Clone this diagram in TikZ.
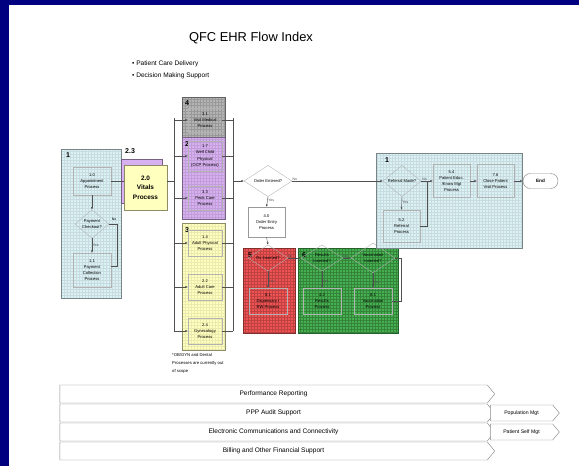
\documentclass[tikz,border=0pt]{standalone}
\usepackage{fontspec}
\setmainfont{Liberation Sans}
\usetikzlibrary{arrows.meta, positioning, shapes.geometric, shapes.symbols}
\definecolor{slidenavy}{RGB}{0,0,128}
\definecolor{boxblue}{RGB}{218,242,246}
\definecolor{boxpurple}{RGB}{214,176,240}
\definecolor{boxyellow}{RGB}{255,255,190}
\definecolor{boxred}{RGB}{238,82,82}
\definecolor{boxgreen}{RGB}{70,176,80}
\definecolor{boxgrey}{RGB}{180,180,180}
\definecolor{linegrey}{RGB}{80,80,80}
\newlength{\pxu}
\setlength{\pxu}{0.03cm}
\newcommand{\tfont}{\fontsize{3.5}{5.2}\selectfont}

\begin{document}
\begin{tikzpicture}[x=0.03cm, y=-0.03cm,
    group/.style={draw=#1!55!black, line width=0.7pt, fill=#1, inner sep=0pt},
    gridded/.style={path picture={\draw[#1, line width=0.12pt]
        (path picture bounding box.south west) grid[step=0.09cm]
        (path picture bounding box.north east);}},
    proc/.style={draw=black!30, line width=0.3pt, align=center, font=\tfont,
        inner sep=0pt, minimum width=37\pxu, minimum height=26\pxu},
    decision/.style={diamond, draw=black!30, line width=0.3pt, align=center,
        font=\tfont, inner sep=0pt},
    num/.style={font=\bfseries\fontsize{6}{6}\selectfont, inner sep=0pt, anchor=north west},
    lab/.style={font=\fontsize{3}{3}\selectfont, inner sep=0.6pt},
    flow/.style={linegrey, line width=0.35pt, -{Latex[length=2pt,width=1.8pt]}},
    link/.style={linegrey, line width=0.35pt},
    band/.style={signal, signal to=east, signal pointer angle=100, draw=black!45,
        line width=0.4pt, fill=white, inner sep=0pt, font=\fontsize{5.6}{6}\selectfont}]
  % cadre
  \fill[slidenavy] (0,0) rectangle (579,466);
  \fill[white] (9,5) rectangle (579,466);
  \useasboundingbox (0,0) rectangle (579,466);
  \node[font=\fontsize{11}{13}\selectfont] (title) at (251,38) {QFC EHR Flow Index};
  \node[anchor=north west, align=left, inner sep=0pt, font=\fontsize{5.6}{10}\selectfont]
    (bullets) at (132,61) {• Patient Care Delivery\\• Decision Making Support};

  % groupe 1 (gauche)
  \node[group=boxblue, gridded=boxblue!80!gray, minimum width=60\pxu, minimum height=149\pxu]
    (grpA) at (91,223.5) {};
  \node[num] (numA) at (66,152) {1};
  \node[proc, minimum width=38\pxu, minimum height=28\pxu] (appt) at (92,181) {1.0\\Appointment\\Process};
  \node[decision, minimum width=34\pxu, minimum height=26\pxu] (pay) at (92,224) {Payment\\Checkout?};
  \node[proc, minimum width=38\pxu, minimum height=34\pxu] (collect) at (92,270) {1.1\\Payment\\Collection\\Process};
  \coordinate (payturn) at (117,266);
  \draw[flow] (appt) -- (pay);
  \draw[flow] (pay) -- node[lab, right, pos=0.45] {Yes} (collect);
  \draw[link] (pay.east) -| (payturn) -- (collect.east |- payturn);
  \node[lab] (payno) at (114,219) {No};

  % vitals
  \node[group=boxpurple, minimum width=41\pxu, minimum height=44\pxu] (grpB) at (141.5,181) {};
  \node[num] (numB) at (125,148) {2.3};
  \node[group=boxyellow, align=center, minimum width=43\pxu, minimum height=45\pxu,
    font=\bfseries\fontsize{5.5}{8}\selectfont] (vitals) at (145.5,187.5) {2.0\\Vitals\\Process};
  \draw[link] (appt.east) -- (appt.east -| vitals.west);

  % colonne des visites
  \coordinate (lbtop) at (174,118);
  \coordinate (lbbot) at (174,331);
  \coordinate (rbtop) at (233,118);
  \coordinate (rbbot) at (233,331);
  \node[group=boxgrey, gridded=boxgrey!85!black, minimum width=43\pxu, minimum height=40\pxu] (grpG) at (203.5,117) {};
  \node[group=boxpurple, gridded=boxpurple!90!black, minimum width=43\pxu, minimum height=82\pxu] (grpP) at (203.5,178) {};
  \node[group=boxyellow, gridded=boxyellow!92!black, minimum width=43\pxu, minimum height=127\pxu] (grpY) at (203.5,286.5) {};
  \node[num] (numG) at (185,100) {4};
  \node[num] (numP) at (185,141) {2};
  \node[num] (numY) at (185,227) {3};
  \node[proc, minimum width=34\pxu, minimum height=24\pxu] (visit) at (205,120) {3.1\\Visit Medical\\Process};
  \node[proc, minimum width=34\pxu, minimum height=30\pxu] (wellchild) at (205,156) {1.7\\Well Child\\Physical\\(OCP Process)};
  \node[proc, minimum width=34\pxu, minimum height=24\pxu] (peds) at (205,198) {3.3\\Peds Care\\Process};
  \node[proc, minimum width=34\pxu, minimum height=26\pxu] (adultphys) at (205,243) {1.4\\Adult Physical\\Process};
  \node[proc, minimum width=34\pxu, minimum height=26\pxu] (adultcare) at (205,287) {2.2\\Adult Care\\Process};
  \node[proc, minimum width=34\pxu, minimum height=26\pxu] (gyn) at (205,331) {2.4\\Gynecology\\Process};
  \draw[link] (lbtop) -- (lbbot);
  \draw[link] (rbtop) -- (rbbot);
  \draw[link] (vitals.east |- appt.east) -- (lbtop |- appt.east);
  \draw[flow] (lbtop |- visit.west) -- (visit.west);
  \draw[flow] (lbtop |- wellchild.west) -- (wellchild.west);
  \draw[flow] (lbtop |- peds.west) -- (peds.west);
  \draw[flow] (lbtop |- adultphys.west) -- (adultphys.west);
  \draw[flow] (lbtop |- adultcare.west) -- (adultcare.west);
  \draw[flow] (lbtop |- gyn.west) -- (gyn.west);
  \draw[link] (visit.east) -- (rbtop |- visit.east);
  \draw[link] (wellchild.east) -- (rbtop |- wellchild.east);
  \draw[link] (peds.east) -- (rbtop |- peds.east);
  \draw[link] (adultphys.east) -- (rbtop |- adultphys.east);
  \draw[link] (adultcare.east) -- (rbtop |- adultcare.east);
  \draw[link] (gyn.east) -- (rbtop |- gyn.east);
  \node[anchor=north west, align=left, inner sep=0pt, font=\fontsize{3.6}{7}\selectfont]
    (scope) at (172,353) {*OB/GYN and Dental\\Processes are currently out\\of scope};

  % commande
  \node[decision, fill=white, minimum width=48\pxu, minimum height=27\pxu] (order) at (268,181) {Order Entered?};
  \node[proc, fill=white, draw=black!40, minimum width=37\pxu, minimum height=30\pxu] (entry) at (266.5,222) {4.0\\Order Entry\\Process};
  \draw[flow] (rbtop |- order.west) -- (order.west);
  \draw[flow] (order.south) -- node[lab, right, pos=0.35] {Yes} (entry.north);

  % groupe 5 et 6
  \node[group=boxred, gridded=boxred!80!black, minimum width=52\pxu, minimum height=85\pxu] (grpR) at (269,290.5) {};
  \node[group=boxgreen, gridded=boxgreen!75!black, minimum width=100\pxu, minimum height=85\pxu] (grpV) at (348,290.5) {};
  \node[num] (numR) at (248,252) {5};
  \node[num] (numV) at (302,252) {6};
  \node[decision, minimum width=40\pxu, minimum height=20\pxu] (rx) at (268,258) {Rx Inserted?};
  \node[proc, minimum width=38\pxu, minimum height=26\pxu] (disp) at (268,301) {8.1\\Dispensary /\\RW Process};
  \node[decision, minimum width=42\pxu, minimum height=22\pxu] (results) at (322,258) {Results\\Inserted?};
  \node[proc, minimum width=38\pxu, minimum height=26\pxu] (resproc) at (322,301) {4.2\\Results\\Process};
  \node[decision, minimum width=44\pxu, minimum height=22\pxu] (vacc) at (373,258) {Vaccination\\Inserted?};
  \node[proc, minimum width=38\pxu, minimum height=26\pxu] (vaccproc) at (373,301) {8.1\\Vaccination\\Process};
  \coordinate (vaccturn) at (401,301);
  \draw[flow] (entry.south) -- (rx.north);
  \draw[flow] (rx.south) -- node[lab, right, pos=0.6] {Yes} (disp.north);
  \draw[flow] (rx.east) -- node[lab, above, pos=0.15] {No} (results.west);
  \draw[flow] (results.south) -- node[lab, right, pos=0.6] {Yes} (resproc.north);
  \draw[flow] (results.east) -- node[lab, above, pos=0.3] {No} (vacc.west);
  \draw[flow] (vacc.south) -- node[lab, right, pos=0.6] {Yes} (vaccproc.north);
  \draw[link] (vacc.east) -| (vaccturn) -- (vaccproc.east);
  \node[lab] (vaccno) at (380,239) {No};

  % groupe 1 (droite)
  \node[group=boxblue, gridded=boxblue!80!gray, minimum width=146\pxu, minimum height=95\pxu] (grpE) at (449,200.5) {};
  \node[num] (numE) at (385,157) {1};
  \node[decision, minimum width=38\pxu, minimum height=29\pxu] (referral) at (402,181) {Referral Made?};
  \node[proc, minimum width=37\pxu, minimum height=32\pxu] (refproc) at (401.5,226) {5.2\\Referral\\Process};
  \node[proc, minimum width=37\pxu, minimum height=33\pxu] (educ) at (451.5,181) {5.4\\Patient Educ.\\/Know Mgt\\Process};
  \node[proc, minimum width=37\pxu, minimum height=33\pxu] (close) at (495.5,181) {7.6\\Close Patient\\Visit Process};
  \node[draw=black!45, line width=0.4pt, fill=white, rounded corners=0.22cm, minimum width=35\pxu,
    minimum height=15\pxu, inner sep=0pt, font=\bfseries\fontsize{4}{4}\selectfont] (endnode) at (540.5,181) {End};
  \coordinate (refturn) at (427,226);
  \draw[flow] (order.east) -- node[lab, above, pos=0.03] {No} (referral.west);
  \draw[flow] (referral.south) -- node[lab, right, pos=0.4] {Yes} (refproc.north);
  \draw[flow] (referral.east) -- node[lab, above, pos=0.3] {No} (educ.west);
  \draw[link] (refproc.east) -- (refturn) -- (refturn |- referral.east);
  \draw[flow] (educ) -- (close);
  \draw[flow] (close) -- (endnode);

  % bandeaux
  \node[band, minimum width=435\pxu, minimum height=18\pxu] (perf) at (273.5,394) {Performance Reporting};
  \node[band, minimum width=435\pxu, minimum height=18\pxu] (audit) at (273.5,413) {PPP Audit Support};
  \node[band, minimum width=435\pxu, minimum height=18\pxu] (comm) at (273.5,432) {Electronic Communications and Connectivity};
  \node[band, minimum width=435\pxu, minimum height=18\pxu] (billing) at (273.5,451) {Billing and Other Financial Support};
  \node[band, minimum width=69\pxu, minimum height=16\pxu, font=\fontsize{4.4}{5}\selectfont] (popmgt) at (521.5,413) {Population Mgt};
  \node[band, minimum width=69\pxu, minimum height=16\pxu, font=\fontsize{4.4}{5}\selectfont] (selfmgt) at (521.5,432) {Patient Self Mgt};
\end{tikzpicture}
\end{document}
